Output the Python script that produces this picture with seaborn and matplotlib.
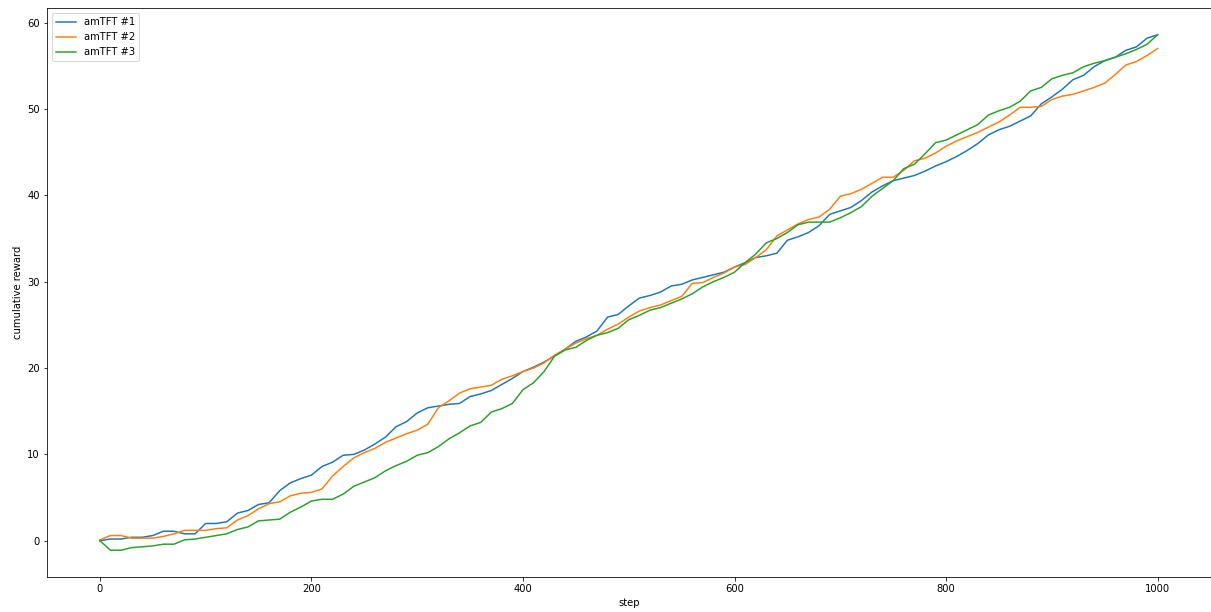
import numpy as np
import pandas as pd
import matplotlib
matplotlib.use("Agg")
import matplotlib.pyplot as plt
import seaborn as sns

steps = list(range(0, 1001, 10))

amtft1 = [0.0, 0.2, 0.2, 0.4, 0.4, 0.6, 1.1, 1.1, 0.8, 0.8,
          2.0, 2.0, 2.2, 3.2, 3.5, 4.2, 4.4, 5.8, 6.7, 7.2,
          7.6, 8.6, 9.1, 9.9, 10.0, 10.5, 11.2, 12.0, 13.2, 13.8,
          14.8, 15.4, 15.6, 15.8, 15.9, 16.7, 17.0, 17.4, 18.1, 18.8,
          19.6, 20.1, 20.7, 21.4, 22.2, 23.1, 23.6, 24.3, 25.9, 26.2,
          27.2, 28.1, 28.4, 28.8, 29.5, 29.7, 30.2, 30.5, 30.8, 31.1,
          31.7, 32.2, 32.8, 33.0, 33.3, 34.8, 35.2, 35.7, 36.5, 37.8,
          38.2, 38.6, 39.4, 40.4, 41.1, 41.7, 42.0, 42.3, 42.8, 43.4,
          43.9, 44.5, 45.2, 46.0, 47.0, 47.6, 48.0, 48.6, 49.2, 50.6,
          51.4, 52.3, 53.4, 53.9, 54.9, 55.6, 56.0, 56.8, 57.2, 58.2,
          58.6]

amtft2 = [0.1, 0.6, 0.6, 0.3, 0.3, 0.3, 0.5, 0.8, 1.2, 1.2,
          1.2, 1.4, 1.5, 2.4, 2.9, 3.7, 4.3, 4.5, 5.2, 5.5,
          5.6, 6.0, 7.5, 8.6, 9.6, 10.2, 10.7, 11.4, 11.9, 12.4,
          12.8, 13.5, 15.4, 16.2, 17.1, 17.6, 17.8, 18.0, 18.7, 19.1,
          19.6, 20.0, 20.6, 21.5, 22.2, 22.9, 23.4, 23.8, 24.5, 25.1,
          25.9, 26.6, 27.0, 27.3, 27.8, 28.3, 29.8, 29.9, 30.5, 31.0,
          31.7, 32.0, 32.8, 33.7, 35.3, 36.0, 36.7, 37.2, 37.5, 38.4,
          39.9, 40.2, 40.7, 41.4, 42.1, 42.1, 42.9, 44.0, 44.3, 44.9,
          45.7, 46.3, 46.8, 47.3, 47.9, 48.5, 49.3, 50.2, 50.2, 50.3,
          51.1, 51.5, 51.7, 52.1, 52.5, 53.0, 54.0, 55.1, 55.5, 56.2,
          57.0]

amtft3 = [0.0, -1.1, -1.1, -0.8, -0.7, -0.6, -0.4, -0.4, 0.1, 0.2,
          0.4, 0.6, 0.8, 1.3, 1.6, 2.3, 2.4, 2.5, 3.3, 3.9,
          4.6, 4.8, 4.8, 5.4, 6.3, 6.8, 7.3, 8.1, 8.7, 9.2,
          9.9, 10.2, 10.9, 11.8, 12.5, 13.3, 13.7, 14.9, 15.3, 15.9,
          17.5, 18.3, 19.6, 21.4, 22.1, 22.4, 23.2, 23.8, 24.1, 24.6,
          25.6, 26.1, 26.7, 27.0, 27.5, 28.0, 28.6, 29.4, 30.0, 30.5,
          31.1, 32.2, 33.2, 34.5, 35.0, 35.7, 36.6, 36.9, 36.9, 36.9,
          37.4, 38.0, 38.7, 39.9, 40.8, 41.7, 43.1, 43.6, 44.8, 46.1,
          46.4, 47.0, 47.6, 48.2, 49.3, 49.8, 50.2, 50.9, 52.1, 52.5,
          53.5, 53.9, 54.2, 54.9, 55.3, 55.6, 56.0, 56.4, 56.9, 57.5,
          58.6]

labels = ["amTFT #1", "amTFT #2", "amTFT #3"]
series = [amtft1, amtft2, amtft3]
colors = ["#1f77b4", "#ff7f0e", "#2ca02c"]

df = pd.concat([
    pd.DataFrame({"step": steps, "cumulative reward": vals, "agent": lab})
    for lab, vals in zip(labels, series)
], ignore_index=True)

W, H, DPI = 1211, 612, 72
fig = plt.figure(figsize=(W / DPI, H / DPI), dpi=DPI)
ax = fig.add_axes([47 / W, 1 - 577 / H, (1210.5 - 47) / W, (577 - 8) / H])

sns.lineplot(data=df, x="step", y="cumulative reward", hue="agent",
             palette=colors, ax=ax, linewidth=1.5)

ax.set_xlim(-50, 1050)
ax.set_ylim(-4.2, 61.7)
ax.set_xticks([0, 200, 400, 600, 800, 1000])
ax.set_yticks([0, 10, 20, 30, 40, 50, 60])
ax.set_xlabel("step", fontsize=10)
ax.set_ylabel("cumulative reward", fontsize=10)
ax.tick_params(labelsize=10)
leg = ax.legend(loc="upper left", fontsize=10)
leg.set_title(None)

fig.savefig("out.png", dpi=DPI)
